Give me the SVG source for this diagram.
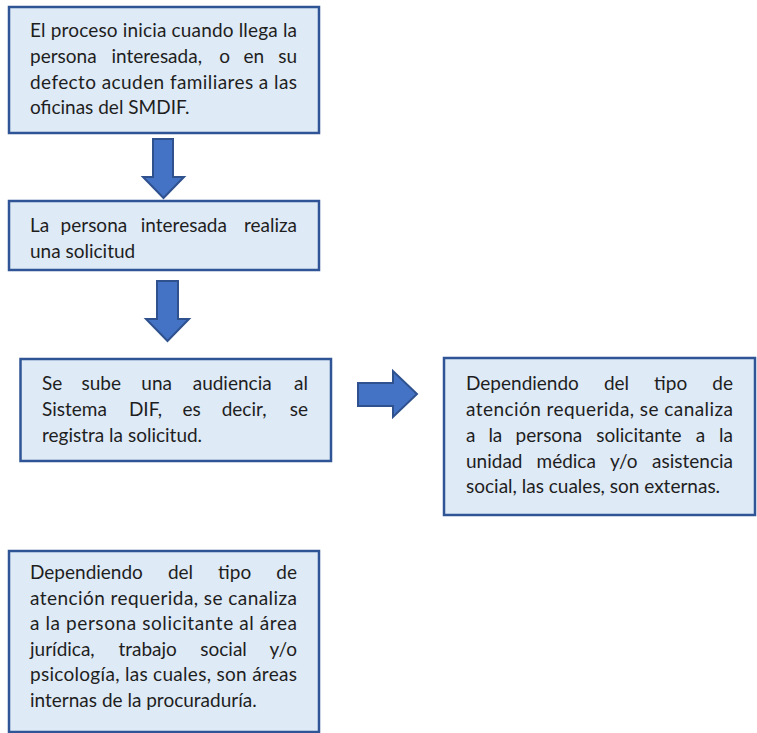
<svg xmlns="http://www.w3.org/2000/svg" width="757" height="733" viewBox="0 0 757 733">
<style>
.box{fill:#DEEAF6;stroke:#2F5597;stroke-width:2.5}
.arr{fill:#4472C4;stroke:#2F528F;stroke-width:2;stroke-linejoin:miter}
text{font-family:Lato,"Carlito","Liberation Sans",sans-serif;font-size:19px;fill:#1e1e1e}
.e{text-anchor:end}
</style>
<rect width="757" height="733" fill="#ffffff"/>
<g id="connectors">
<polygon class="arr" points="153,139 173,139 173,177 184,177 163.5,198 143,177 153,177"/>
<polygon class="arr" points="157,281 178,281 178,319 189,319 167.5,341 146,319 157,319"/>
<polygon class="arr" points="358,383 393,383 393,371 417,394 393,417 393,406 358,406"/>
</g>
<g id="n1">
<rect class="box" x="9" y="7" width="310" height="126"/>
<text x="30" y="37" textLength="267" lengthAdjust="spacing">El proceso inicia cuando llega la</text>
<text y="63"><tspan x="30">persona</tspan><tspan x="111.5">interesada,</tspan><tspan x="219.2">o</tspan><tspan x="243.4">en</tspan></text>
<text class="e" x="297" y="63">su</text>
<text x="30" y="88.5" textLength="267" lengthAdjust="spacing">defecto acuden familiares a las</text>
<text x="30" y="114">oficinas del SMDIF.</text>
</g>
<g id="n2">
<rect class="box" x="9" y="201" width="310" height="69"/>
<text y="232"><tspan x="30">La</tspan><tspan x="60.6">persona</tspan><tspan x="140.8">interesada</tspan></text>
<text class="e" x="297" y="232">realiza</text>
<text x="30" y="258">una solicitud</text>
</g>
<g id="n3">
<rect class="box" x="20.5" y="359" width="310.5" height="102"/>
<text y="390"><tspan x="42">Se</tspan><tspan x="81.5">sube</tspan><tspan x="141.3">una</tspan><tspan x="192.7">audiencia</tspan></text>
<text class="e" x="308" y="390">al</text>
<text y="416"><tspan x="42">Sistema</tspan><tspan x="128.9">DIF,</tspan><tspan x="182.4">es</tspan><tspan x="221.7">decir,</tspan></text>
<text class="e" x="308" y="416">se</text>
<text x="42" y="442">registra la solicitud.</text>
</g>
<g id="n4">
<rect class="box" x="444" y="358" width="311" height="157"/>
<text y="390"><tspan x="466">Dependiendo</tspan><tspan x="603.9">del</tspan><tspan x="654.1">tipo</tspan></text>
<text class="e" x="733" y="390">de</text>
<text x="466" y="416" textLength="267" lengthAdjust="spacing">atención requerida, se canaliza</text>
<text y="442"><tspan x="466">a</tspan><tspan x="488.4">la</tspan><tspan x="515.6">persona</tspan><tspan x="596.3">solicitante</tspan><tspan x="695.7">a</tspan></text>
<text class="e" x="733" y="442">la</text>
<text y="468"><tspan x="466">unidad</tspan><tspan x="536.5">médica</tspan><tspan x="610">y/o</tspan></text>
<text class="e" x="733" y="468">asistencia</text>
<text x="466" y="493">social, las cuales, son externas.</text>
</g>
<g id="n5">
<rect class="box" x="9" y="551" width="310" height="181"/>
<text y="579"><tspan x="30">Dependiendo</tspan><tspan x="167.9">del</tspan><tspan x="218.1">tipo</tspan></text>
<text class="e" x="297" y="579">de</text>
<text x="30" y="604.6" textLength="267" lengthAdjust="spacing">atención requerida, se canaliza</text>
<text x="30" y="630.2" textLength="267" lengthAdjust="spacing">a la persona solicitante al área</text>
<text y="655.8"><tspan x="30">jurídica,</tspan><tspan x="118.4">trabajo</tspan><tspan x="200.3">social</tspan></text>
<text class="e" x="297" y="655.8">y/o</text>
<text x="30" y="681.4" textLength="267" lengthAdjust="spacing">psicología, las cuales, son áreas</text>
<text x="30" y="707">internas de la procuraduría.</text>
</g>
</svg>
